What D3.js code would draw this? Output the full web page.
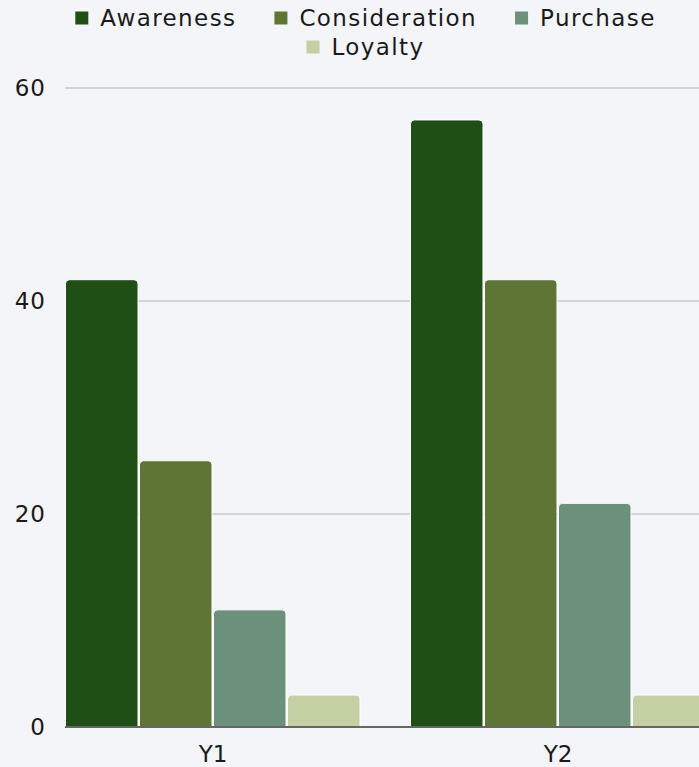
<!DOCTYPE html>
<html>
<head>
<meta charset="utf-8">
<script src="https://cdn.jsdelivr.net/npm/d3@7"></script>
<style>
  html, body { margin: 0; padding: 0; background: #f4f5f8; }
  svg { display: block; font-family: "DejaVu Sans", "Noto Sans", sans-serif; }
</style>
</head>
<body>
<svg id="chart" width="699" height="767"></svg>
<script>
// Funnel stages per year
const years = ["Y1", "Y2"];
const stages = ["Awareness", "Consideration", "Purchase", "Loyalty"];
const awareness = [42, 57];
const consideration = [25, 42];
const purchase = [11, 21];
const loyalty = [3, 3];
const yTicks = [0, 20, 40, 60];
const stageColors = ["#1f4f14", "#5f7536", "#6b917a", "#c2d0a2"];

const seriesValues = [awareness, consideration, purchase, loyalty];
const rows = years.map((yr, i) => ({
  year: yr,
  values: stages.map((s, k) => ({ stage: s, value: seriesValues[k][i], color: stageColors[k] }))
}));

const svg = d3.select("#chart");
const W = 699, H = 767;
const plot = { left: 65, right: 706, top: 88, bottom: 727 };
const fontSize = 23;
const textColor = "#1a1a1a";

const x0 = d3.scaleBand().domain(years).range([plot.left, plot.right])
  .paddingInner(0.142).paddingOuter(0);
const x1 = d3.scaleBand().domain(stages).range([0, x0.bandwidth()]).padding(0);
const y = d3.scaleLinear().domain([0, 60]).range([plot.bottom, plot.top]);

// Grid lines
svg.append("g").selectAll("line").data(yTicks.filter(t => t > 0)).join("line")
  .attr("x1", plot.left).attr("x2", W)
  .attr("y1", d => y(d)).attr("y2", d => y(d))
  .attr("stroke", "#b0b2b4").attr("stroke-width", 1);

// Y tick labels
svg.append("g").selectAll("text").data(yTicks).join("text")
  .attr("x", 46).attr("y", d => y(d))
  .attr("dy", "0.35em")
  .attr("text-anchor", "end")
  .attr("font-size", fontSize)
  .attr("letter-spacing", 1)
  .attr("fill", textColor)
  .text(d => d);

// Bars with rounded top corners
function topRounded(xp, yp, w, h, r) {
  r = Math.min(r, h, w / 2);
  return `M${xp},${yp + h}V${yp + r}Q${xp},${yp} ${xp + r},${yp}H${xp + w - r}Q${xp + w},${yp} ${xp + w},${yp + r}V${yp + h}Z`;
}

const groups = svg.append("g").selectAll("g").data(rows).join("g")
  .attr("transform", d => `translate(${x0(d.year)},0)`);

groups.selectAll("path").data(d => d.values).join("path")
  .attr("d", d => {
    const bx = x1(d.stage) + 0.5;
    const bw = x1.bandwidth() - 1.5;
    const top = y(d.value);
    return topRounded(bx, top, bw, plot.bottom - top, 4);
  })
  .attr("fill", d => d.color)
  .attr("stroke", "#ffffff")
  .attr("stroke-width", 1);

// Baseline
svg.append("line")
  .attr("x1", plot.left).attr("x2", W)
  .attr("y1", plot.bottom).attr("y2", plot.bottom)
  .attr("stroke", "#666666").attr("stroke-width", 2);

// X labels
svg.append("g").selectAll("text").data(years).join("text")
  .attr("x", d => x0(d) + x0.bandwidth() / 2)
  .attr("y", 762)
  .attr("text-anchor", "middle")
  .attr("font-size", fontSize)
  .attr("fill", textColor)
  .text(d => d);

// Legend: two centered rows
const legendRows = [stages.slice(0, 3), stages.slice(3)];
const legendY = [18, 47];
const sw = 13, gapText = 12, gapItem = 38;
const legend = svg.append("g");
legendRows.forEach((row, ri) => {
  const g = legend.append("g");
  let cx = 0;
  row.forEach(name => {
    const k = stages.indexOf(name);
    const item = g.append("g").attr("transform", `translate(${cx},0)`);
    item.append("rect").attr("x", 0).attr("y", legendY[ri] - sw / 2)
      .attr("width", sw).attr("height", sw).attr("fill", stageColors[k]);
    const t = item.append("text").attr("x", sw + gapText).attr("y", legendY[ri])
      .attr("dy", "0.35em").attr("font-size", fontSize).attr("letter-spacing", 1.4)
      .attr("fill", textColor).text(name);
    cx += sw + gapText + t.node().getComputedTextLength() + gapItem;
  });
  const total = cx - gapItem;
  g.attr("transform", `translate(${(W - total) / 2 + 16},0)`);
});
</script>
</body>
</html>
